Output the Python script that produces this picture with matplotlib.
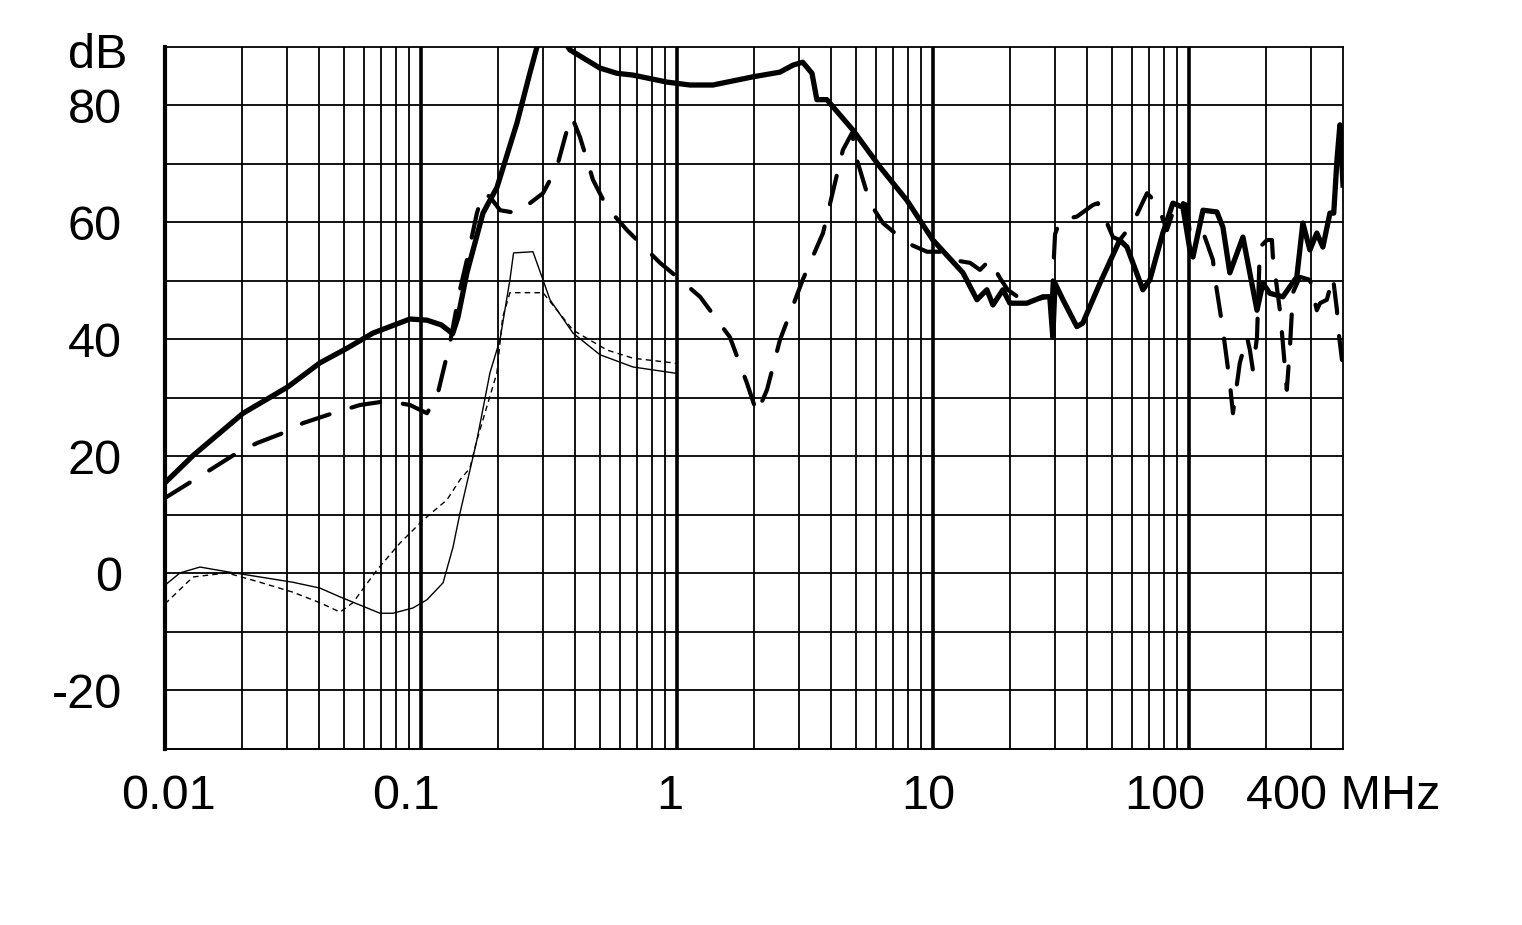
import matplotlib
matplotlib.use('Agg')
import matplotlib.pyplot as plt
import matplotlib.transforms as mtransforms

plt.rcParams['font.family'] = ['Liberation Sans', 'DejaVu Sans']

# thick solid curve
f_a = [0.01, 0.0129, 0.0202, 0.0302, 0.0403, 0.0514, 0.065, 0.0906, 0.1055, 0.12, 0.133,
       0.1395, 0.1512, 0.1747, 0.1981, 0.2371, 0.2666, 0.2839, 0.32, 0.35, 0.375, 0.382,
       0.5, 0.583, 0.673, 0.914, 1.124, 1.382, 1.98, 2.525, 2.84, 3.1, 3.37, 3.52, 3.85,
       4.87, 6.21, 7.91, 10, 13.1, 14.86, 16.25, 17.15, 18.77, 19.98, 23.28, 26.9, 28.6,
       29.4, 30.0, 32.2, 36.5, 38.5, 44.9, 53.7, 57.3, 66.1, 70.4, 79.1, 86.6, 94.8, 100.9,
       103.7, 113.5, 128.6, 135.8, 144.5, 162.6, 184.5, 194.6, 207, 232.8, 264, 278.7, 297,
       316, 333.7, 355.6, 368, 378.8, 389, 400]
db_a = [15.5, 20.2, 27.4, 31.9, 36.0, 38.5, 41.1, 43.5, 43.3, 42.5, 41.0,
        43.8, 51.4, 61.6, 66.0, 77.0, 85.6, 90.0, 96.0, 95.0, 90.0, 89.5,
        86.4, 85.5, 85.2, 84.0, 83.5, 83.5, 84.9, 85.7, 86.9, 87.4, 85.5, 81.0, 81.0,
        75.8, 69.5, 63.8, 57.0, 51.4, 46.8, 48.5, 45.9, 48.5, 46.2, 46.2, 47.3, 47.3,
        40.4, 49.6, 46.8, 42.2, 42.8, 49.6, 57.0, 55.8, 48.5, 50.2, 58.2, 63.3, 62.6, 55.3,
        54.1, 62.1, 61.8, 59.2, 51.4, 57.5, 45.0, 49.6, 47.9, 47.3, 50.7, 59.9, 55.3,
        58.2, 55.8, 61.6, 61.6, 70.7, 76.7, 66.4]

# thick dashed curve
f_b = [0.01, 0.015, 0.0191, 0.0229, 0.0289, 0.0346, 0.0453, 0.0578, 0.0692, 0.0777, 0.0906,
       0.1055, 0.1155, 0.1298, 0.142, 0.1512, 0.1654, 0.1747, 0.186, 0.2036, 0.2371, 0.2997,
       0.3398, 0.3719, 0.389, 0.418, 0.4698, 0.533, 0.638, 0.859, 1.0, 1.231, 1.61, 1.875,
       2.054, 2.248, 2.525, 3.1, 3.72, 4.45, 4.83, 5.05, 5.68, 6.38, 7.91, 9.48, 10.65,
       11.97, 13.96, 15.27, 16.7, 18.27, 19.6, 21.9, 26.2, 29.2, 30.0, 31.4, 36.5, 42.2,
       44.1, 46.9, 50.5, 53.7, 60.4, 68.6, 75.0, 82.1, 89.8, 98.2, 100.9, 113.5, 124.1,
       126.4, 132.2, 135.8, 140.7, 144.5, 148.6, 158.1, 168.6, 173.1, 177.8, 184.5, 189.4,
       201.9, 211, 212.9, 226.7, 232.8, 241.3, 248.2, 254.9, 271.6, 297, 316, 325.2, 346,
       365.2, 378.8, 382, 396.3]
db_b = [12.9, 17.7, 20.6, 22.3, 24.0, 25.7, 27.4, 28.8, 29.3, 29.3, 28.8,
        27.4, 30.2, 39.4, 48.5, 53.6, 61.6, 65.0, 64.4, 62.1, 61.6, 65.0,
        69.5, 75.8, 78.0, 74.6, 67.3, 62.6, 58.7, 53.1, 50.7, 47.3, 40.4, 32.6,
        27.4, 31.4, 39.9, 50.2, 58.2, 72.4, 75.3, 70.7, 63.3, 59.9, 56.5, 55.0, 55.0,
        53.6, 53.1, 51.9, 53.6, 50.5, 48.5, 47.0, 47.0, 47.5, 58.0, 60.4, 61.0, 63.0,
        63.3, 60.8, 57.5, 57.0, 59.9, 65.0, 63.3, 58.7, 63.8, 63.0, 58.0, 58.4, 53.6,
        50.5, 45.0, 41.6, 36.5, 32.6, 27.4, 36.0, 40.4, 38.2, 34.8, 40.4, 55.8,
        57.0, 57.0, 54.1, 45.0, 39.4, 31.4, 38.7, 48.0, 50.7, 50.2, 45.0, 46.2, 46.8,
        50.7, 45.0, 42.2, 36.5]

# thin solid curve
f_c = [0.01, 0.01145, 0.0137, 0.01746, 0.0235, 0.0316, 0.0403, 0.0483, 0.0578, 0.0692,
       0.0777, 0.093, 0.1055, 0.122, 0.1334, 0.142, 0.1654, 0.186, 0.2036, 0.2226, 0.23,
       0.2738, 0.2997, 0.3191, 0.3924, 0.5, 0.673, 0.964, 1.0]
db_c = [-2.0, 0.1, 1.1, 0.3, -0.6, -1.5, -2.5, -4.0, -5.4, -6.8,
        -6.8, -5.9, -4.5, -1.6, 4.5, 10.3, 22.8, 34.3, 40.0, 50.2, 54.8,
        55.0, 50.2, 46.8, 41.1, 37.4, 35.3, 34.3, 34.2]

# thin dashed curve
f_d = [0.01, 0.01286, 0.01746, 0.0235, 0.0316, 0.0403, 0.0483, 0.0542, 0.0673, 0.0828,
       0.1018, 0.1264, 0.142, 0.1553, 0.1654, 0.198, 0.2085, 0.2226, 0.2997, 0.3924,
       0.533, 0.673, 0.964, 1.0]
db_d = [-5.2, -0.6, 0.1, -1.5, -3.2, -5.0, -6.6, -5.0, 0.6, 5.2,
        9.1, 12.6, 16.0, 18.0, 22.8, 34.3, 43.8, 48.0, 48.0, 41.6,
        38.2, 36.8, 36.0, 35.9]

x_ticks = [0.01, 0.1, 1, 10, 100, 400]
x_labels = ['0.01', '0.1', '1', '10', '100', '400 MHz']
y_ticks = [-20, 0, 20, 40, 60, 80]
y_labels = ['-20', '0', '20', '40', '60', '80']

fig = plt.figure(figsize=(15.22, 9.25), dpi=100)
ax = fig.add_axes([0.1084, 0.1903, 0.774, 0.7589])
ax.set_xscale('log')
ax.set_xlim(0.01, 400)
ax.set_ylim(-30, 90)

# grid
for dec in [0.01, 0.1, 1, 10, 100]:
    for m in range(2, 10):
        if dec * m < 400:
            ax.axvline(dec * m, color='black', lw=1.3, zorder=1)
for dec in [0.1, 1, 10, 100]:
    ax.axvline(dec, color='black', lw=2.6, zorder=1)
for y in range(-20, 90, 10):
    ax.axhline(y, color='black', lw=1.3, zorder=1)

ax.plot(f_a, db_a, color='black', lw=3.8, solid_joinstyle='round', zorder=3)
ax.plot(f_b, db_b, color='black', lw=3.0, dashes=(7, 5.5), dash_capstyle='round', zorder=3)
ax.plot(f_c, db_c, color='black', lw=1.0, zorder=3)
ax.plot(f_d, db_d, color='black', lw=1.0, dashes=(4, 3), zorder=3)

ax.set_xticks(x_ticks)
ax.set_xticklabels(x_labels)
ax.minorticks_off()
ax.set_yticks(y_ticks)
ax.set_yticklabels(y_labels)
ax.tick_params(axis='both', length=0, labelsize=35)
ax.tick_params(axis='x', pad=18)
ax.tick_params(axis='y', pad=31)
ax.annotate('dB', xy=(0, 90), xycoords=('axes fraction', 'data'),
            xytext=(-27, -6), textcoords='offset points',
            ha='right', va='center', fontsize=35)

# the labels in the original sit a little left of their ticks
shifts = [0.04, -0.15, -0.07, -0.05, -0.24, 0.0]
for lab, dx in zip(ax.get_xticklabels(), shifts):
    lab.set_transform(lab.get_transform() + mtransforms.ScaledTranslation(dx, 0, fig.dpi_scale_trans))

ax.spines['left'].set_linewidth(3)
ax.spines['bottom'].set_linewidth(1.4)
ax.spines['top'].set_linewidth(1.3)
ax.spines['right'].set_linewidth(1.3)

fig.savefig('out.png', dpi=100)
